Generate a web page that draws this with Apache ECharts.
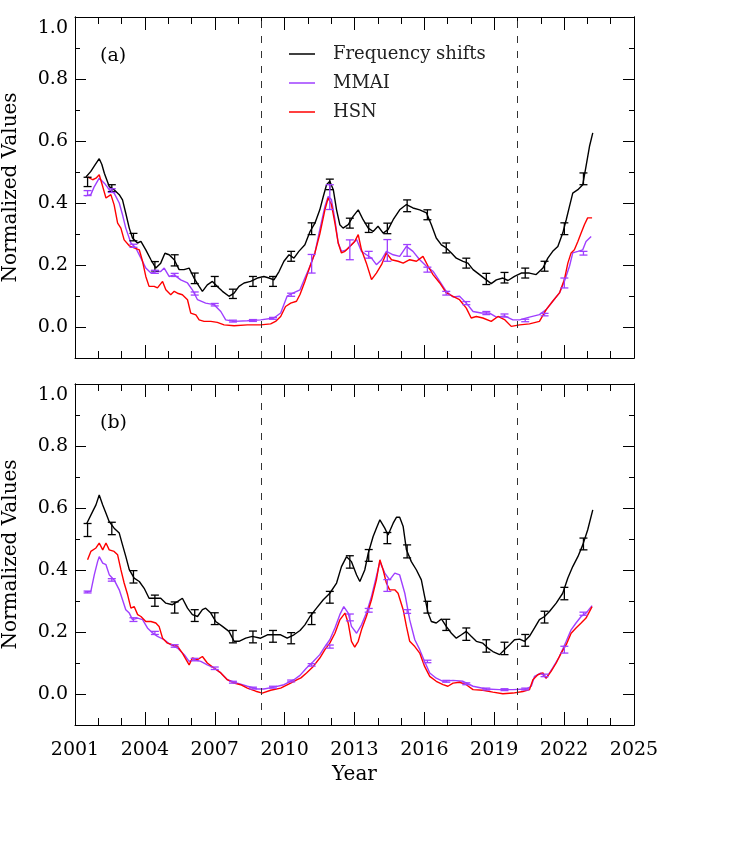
<!DOCTYPE html>
<html>
<head>
<meta charset="utf-8">
<script src="https://cdn.jsdelivr.net/npm/echarts@6/dist/echarts.min.js"></script>
<style>
  html, body { margin: 0; padding: 0; background: #fff; }
  #chart { width: 747px; height: 854px; }
</style>
</head>
<body>
<div id="chart"></div>
<script>
// values: [year, normalized value]
// panel (a)
var fsA = [[2001.47,0.484],[2001.68,0.502],[2001.86,0.523],[2002.04,0.543],[2002.15,0.525],[2002.26,0.496],[2002.47,0.453],[2002.68,0.443],[2002.9,0.427],[2003.04,0.41],[2003.18,0.367],[2003.33,0.319],[2003.47,0.287],[2003.68,0.271],[2003.83,0.276],[2004.04,0.249],[2004.26,0.217],[2004.47,0.19],[2004.68,0.206],[2004.86,0.238],[2005.04,0.233],[2005.26,0.217],[2005.47,0.185],[2005.68,0.185],[2005.9,0.19],[2006.11,0.158],[2006.33,0.131],[2006.47,0.115],[2006.68,0.136],[2006.9,0.147],[2007.11,0.131],[2007.33,0.115],[2007.61,0.099],[2007.83,0.109],[2008.04,0.131],[2008.26,0.142],[2008.54,0.147],[2008.83,0.158],[2009.11,0.163],[2009.33,0.158],[2009.54,0.152],[2009.76,0.179],[2009.97,0.212],[2010.19,0.233],[2010.4,0.222],[2010.61,0.244],[2010.87,0.265],[2011.09,0.308],[2011.3,0.335],[2011.51,0.378],[2011.66,0.421],[2011.8,0.459],[2011.94,0.47],[2012.09,0.443],[2012.23,0.378],[2012.37,0.33],[2012.51,0.319],[2012.73,0.33],[2012.94,0.357],[2013.16,0.378],[2013.37,0.346],[2013.59,0.319],[2013.8,0.308],[2014.01,0.325],[2014.23,0.303],[2014.44,0.314],[2014.66,0.346],[2014.94,0.378],[2015.23,0.395],[2015.51,0.384],[2015.8,0.378],[2016.09,0.368],[2016.3,0.33],[2016.51,0.287],[2016.73,0.265],[2016.94,0.255],[2017.16,0.239],[2017.37,0.222],[2017.66,0.212],[2017.87,0.206],[2018.09,0.185],[2018.37,0.169],[2018.66,0.152],[2018.87,0.14],[2019.09,0.152],[2019.37,0.158],[2019.59,0.15],[2019.87,0.163],[2020.16,0.174],[2020.51,0.174],[2020.8,0.169],[2021.09,0.19],[2021.3,0.222],[2021.51,0.244],[2021.73,0.26],[2021.94,0.303],[2022.09,0.346],[2022.23,0.389],[2022.37,0.432],[2022.59,0.443],[2022.8,0.459],[2022.94,0.518],[2023.09,0.583],[2023.23,0.626]];
var mmaiA = [[2001.44,0.423],[2001.68,0.427],[2001.83,0.453],[2002.04,0.48],[2002.26,0.464],[2002.47,0.443],[2002.68,0.432],[2002.9,0.4],[2003.04,0.362],[2003.18,0.319],[2003.4,0.271],[2003.61,0.255],[2003.83,0.222],[2004.04,0.19],[2004.26,0.174],[2004.47,0.179],[2004.68,0.179],[2004.83,0.19],[2005.04,0.163],[2005.26,0.168],[2005.54,0.152],[2005.83,0.142],[2006.04,0.12],[2006.26,0.088],[2006.61,0.077],[2006.97,0.072],[2007.26,0.05],[2007.47,0.023],[2007.83,0.018],[2008.4,0.02],[2008.97,0.023],[2009.54,0.029],[2009.83,0.045],[2010.11,0.1],[2010.4,0.111],[2010.66,0.12],[2010.87,0.158],[2011.09,0.196],[2011.3,0.239],[2011.51,0.314],[2011.73,0.389],[2011.87,0.421],[2012.01,0.411],[2012.16,0.346],[2012.3,0.271],[2012.44,0.244],[2012.66,0.249],[2012.87,0.265],[2013.09,0.282],[2013.3,0.244],[2013.51,0.233],[2013.73,0.222],[2013.94,0.201],[2014.16,0.217],[2014.37,0.244],[2014.66,0.233],[2014.94,0.228],[2015.23,0.26],[2015.51,0.244],[2015.8,0.217],[2016.09,0.196],[2016.37,0.18],[2016.66,0.147],[2016.94,0.115],[2017.23,0.097],[2017.51,0.099],[2017.8,0.077],[2018.09,0.05],[2018.44,0.045],[2018.8,0.045],[2019.09,0.032],[2019.44,0.036],[2019.8,0.023],[2020.09,0.023],[2020.51,0.032],[2020.94,0.04],[2021.23,0.056],[2021.51,0.083],[2021.8,0.11],[2022.01,0.147],[2022.23,0.196],[2022.37,0.239],[2022.59,0.244],[2022.8,0.249],[2022.94,0.276],[2023.16,0.292]];
var hsnA = [[2001.54,0.484],[2001.76,0.475],[2001.9,0.48],[2002.04,0.491],[2002.19,0.453],[2002.33,0.416],[2002.54,0.427],[2002.68,0.394],[2002.83,0.335],[2002.97,0.319],[2003.11,0.281],[2003.33,0.262],[2003.54,0.255],[2003.76,0.249],[2003.9,0.212],[2004.04,0.163],[2004.18,0.131],[2004.4,0.131],[2004.54,0.126],[2004.76,0.147],[2004.9,0.12],[2005.11,0.104],[2005.26,0.115],[2005.4,0.109],[2005.61,0.104],[2005.83,0.088],[2005.97,0.045],[2006.19,0.039],[2006.33,0.023],[2006.54,0.018],[2006.83,0.018],[2007.11,0.015],[2007.4,0.007],[2007.83,0.004],[2008.4,0.007],[2008.97,0.007],[2009.4,0.01],[2009.61,0.018],[2009.83,0.034],[2010.04,0.066],[2010.26,0.077],[2010.51,0.083],[2010.66,0.105],[2010.87,0.147],[2011.09,0.196],[2011.3,0.239],[2011.51,0.3],[2011.73,0.378],[2011.87,0.416],[2012.01,0.395],[2012.16,0.335],[2012.3,0.271],[2012.44,0.239],[2012.59,0.244],[2012.8,0.26],[2013.01,0.276],[2013.16,0.298],[2013.3,0.249],[2013.51,0.206],[2013.73,0.153],[2013.94,0.174],[2014.16,0.201],[2014.37,0.239],[2014.59,0.217],[2014.87,0.212],[2015.09,0.206],[2015.37,0.217],[2015.66,0.212],[2015.94,0.228],[2016.16,0.196],[2016.37,0.169],[2016.66,0.142],[2016.94,0.11],[2017.23,0.099],[2017.51,0.088],[2017.8,0.061],[2018.01,0.029],[2018.23,0.034],[2018.51,0.029],[2018.87,0.018],[2019.16,0.034],[2019.44,0.024],[2019.73,0.002],[2020.09,0.007],[2020.51,0.01],[2020.94,0.018],[2021.23,0.056],[2021.51,0.083],[2021.8,0.11],[2022.01,0.153],[2022.16,0.206],[2022.3,0.239],[2022.44,0.249],[2022.59,0.276],[2022.73,0.303],[2022.87,0.33],[2023.01,0.352],[2023.2,0.352]];
// panel (b)
var fsB = [[2001.51,0.551],[2001.76,0.589],[2001.9,0.61],[2002.04,0.642],[2002.19,0.61],[2002.33,0.583],[2002.47,0.556],[2002.68,0.535],[2002.9,0.519],[2003.04,0.481],[2003.18,0.444],[2003.33,0.401],[2003.54,0.374],[2003.76,0.363],[2003.97,0.341],[2004.18,0.309],[2004.4,0.309],[2004.68,0.309],[2004.9,0.293],[2005.18,0.288],[2005.4,0.298],[2005.61,0.309],[2005.83,0.277],[2006.04,0.256],[2006.26,0.25],[2006.47,0.272],[2006.61,0.277],[2006.83,0.261],[2007.04,0.234],[2007.33,0.218],[2007.61,0.202],[2007.83,0.17],[2008.04,0.17],[2008.33,0.18],[2008.61,0.186],[2008.97,0.18],[2009.26,0.191],[2009.54,0.191],[2009.83,0.191],[2010.11,0.18],[2010.4,0.191],[2010.66,0.205],[2010.87,0.223],[2011.09,0.25],[2011.37,0.277],[2011.66,0.304],[2011.94,0.325],[2012.23,0.358],[2012.44,0.411],[2012.66,0.443],[2012.87,0.427],[2013.09,0.384],[2013.23,0.363],[2013.44,0.4],[2013.59,0.454],[2013.8,0.508],[2013.94,0.535],[2014.09,0.562],[2014.3,0.535],[2014.44,0.513],[2014.66,0.551],[2014.8,0.57],[2014.94,0.57],[2015.09,0.54],[2015.23,0.465],[2015.44,0.427],[2015.66,0.4],[2015.87,0.368],[2016.01,0.315],[2016.16,0.261],[2016.3,0.234],[2016.51,0.229],[2016.73,0.242],[2016.94,0.218],[2017.16,0.196],[2017.37,0.18],[2017.59,0.191],[2017.8,0.202],[2018.01,0.186],[2018.23,0.17],[2018.51,0.164],[2018.73,0.148],[2018.94,0.137],[2019.23,0.127],[2019.44,0.143],[2019.66,0.159],[2019.87,0.175],[2020.09,0.177],[2020.3,0.17],[2020.51,0.186],[2020.73,0.213],[2020.94,0.24],[2021.16,0.25],[2021.37,0.266],[2021.66,0.293],[2021.94,0.325],[2022.16,0.374],[2022.37,0.411],[2022.59,0.443],[2022.8,0.481],[2023.01,0.529],[2023.23,0.594]];
var mmaiB = [[2001.43,0.329],[2001.68,0.331],[2001.83,0.385],[2001.97,0.427],[2002.04,0.443],[2002.19,0.422],[2002.33,0.417],[2002.47,0.385],[2002.68,0.368],[2002.9,0.336],[2003.04,0.304],[2003.18,0.272],[2003.33,0.261],[2003.47,0.24],[2003.69,0.245],[2003.9,0.24],[2004.11,0.213],[2004.33,0.197],[2004.54,0.186],[2004.83,0.175],[2005.11,0.159],[2005.4,0.148],[2005.69,0.127],[2005.9,0.105],[2006.11,0.111],[2006.4,0.105],[2006.68,0.094],[2006.97,0.084],[2007.26,0.068],[2007.54,0.046],[2007.97,0.035],[2008.4,0.025],[2008.83,0.016],[2009.11,0.016],[2009.54,0.022],[2009.97,0.03],[2010.4,0.046],[2010.66,0.06],[2010.94,0.084],[2011.23,0.105],[2011.51,0.127],[2011.73,0.153],[2011.94,0.175],[2012.16,0.213],[2012.37,0.256],[2012.54,0.282],[2012.73,0.261],[2012.87,0.218],[2013.09,0.196],[2013.3,0.223],[2013.51,0.261],[2013.73,0.315],[2013.94,0.379],[2014.09,0.427],[2014.3,0.39],[2014.51,0.368],[2014.73,0.39],[2014.94,0.384],[2015.16,0.325],[2015.37,0.239],[2015.59,0.175],[2015.8,0.143],[2016.01,0.105],[2016.23,0.068],[2016.51,0.051],[2016.8,0.041],[2017.23,0.044],[2017.66,0.041],[2018.09,0.025],[2018.66,0.016],[2019.23,0.014],[2019.8,0.014],[2020.37,0.016],[2020.59,0.025],[2020.73,0.057],[2021.01,0.068],[2021.23,0.051],[2021.51,0.084],[2021.8,0.121],[2022.09,0.17],[2022.3,0.207],[2022.51,0.229],[2022.73,0.25],[2022.94,0.261],[2023.2,0.285]];
var hsnB = [[2001.54,0.433],[2001.68,0.46],[2001.9,0.471],[2002.04,0.487],[2002.19,0.465],[2002.33,0.487],[2002.47,0.465],[2002.68,0.46],[2002.83,0.449],[2002.97,0.401],[2003.11,0.358],[2003.26,0.32],[2003.4,0.277],[2003.54,0.282],[2003.69,0.256],[2003.83,0.25],[2004.04,0.234],[2004.26,0.234],[2004.47,0.229],[2004.61,0.218],[2004.76,0.18],[2004.97,0.164],[2005.18,0.159],[2005.4,0.154],[2005.61,0.132],[2005.9,0.094],[2006.04,0.116],[2006.26,0.111],[2006.47,0.121],[2006.68,0.1],[2006.97,0.084],[2007.26,0.068],[2007.54,0.046],[2007.83,0.035],[2008.11,0.03],[2008.4,0.019],[2008.76,0.009],[2009.04,0.003],[2009.4,0.012],[2009.83,0.019],[2010.26,0.035],[2010.54,0.046],[2010.7,0.052],[2010.94,0.068],[2011.23,0.089],[2011.51,0.116],[2011.73,0.143],[2011.94,0.164],[2012.16,0.196],[2012.37,0.239],[2012.59,0.261],[2012.73,0.229],[2012.87,0.17],[2013.01,0.151],[2013.16,0.17],[2013.3,0.207],[2013.51,0.25],[2013.73,0.304],[2013.94,0.368],[2014.09,0.433],[2014.23,0.4],[2014.37,0.358],[2014.51,0.336],[2014.73,0.336],[2014.87,0.325],[2015.09,0.272],[2015.23,0.218],[2015.37,0.17],[2015.59,0.153],[2015.8,0.132],[2016.01,0.089],[2016.23,0.057],[2016.51,0.041],[2016.8,0.03],[2017.01,0.025],[2017.23,0.035],[2017.51,0.038],[2017.8,0.03],[2018.09,0.014],[2018.51,0.012],[2018.94,0.006],[2019.37,0.001],[2019.8,0.003],[2020.23,0.008],[2020.51,0.014],[2020.66,0.046],[2020.87,0.062],[2021.09,0.068],[2021.23,0.051],[2021.44,0.073],[2021.66,0.1],[2021.87,0.132],[2022.09,0.159],[2022.3,0.196],[2022.51,0.213],[2022.73,0.229],[2022.94,0.245],[2023.2,0.282]];

// error bars: years, then [centre, half-length] per year
var errYears = [2001.54,2002.58,2003.51,2004.43,2005.28,2006.14,2007.0,2007.78,2008.64,2009.5,2010.28,2011.16,2011.94,2012.8,2013.61,2014.41,2015.26,2016.13,2016.94,2017.8,2018.66,2019.44,2020.33,2021.16,2022.01,2022.83];
var fsErrA = [[0.468,0.015],[0.448,0.011],[0.29,0.012],[0.196,0.015],[0.215,0.018],[0.157,0.017],[0.147,0.016],[0.107,0.015],[0.147,0.016],[0.147,0.016],[0.228,0.016],[0.317,0.019],[0.46,0.017],[0.335,0.016],[0.32,0.015],[0.318,0.017],[0.391,0.019],[0.362,0.016],[0.255,0.016],[0.206,0.016],[0.155,0.018],[0.159,0.017],[0.174,0.016],[0.196,0.016],[0.317,0.019],[0.478,0.019]];
var mmaiErrA = [[0.432,0.008],[0.44,0.006],[0.262,0.005],[0.178,0.005],[0.168,0.005],[0.108,0.005],[0.072,0.004],[0.019,0.003],[0.021,0.003],[0.028,0.003],[0.104,0.005],[0.204,0.03],[0.419,0.04],[0.249,0.032],[0.233,0.011],[0.247,0.035],[0.247,0.019],[0.185,0.008],[0.109,0.006],[0.077,0.005],[0.045,0.005],[0.037,0.005],[0.021,0.004],[0.04,0.004],[0.142,0.016],[0.238,0.006]];
var fsErrB = [[0.529,0.021],[0.534,0.02],[0.378,0.02],[0.301,0.018],[0.279,0.018],[0.253,0.019],[0.243,0.019],[0.185,0.02],[0.184,0.019],[0.186,0.019],[0.18,0.018],[0.243,0.019],[0.312,0.019],[0.426,0.02],[0.447,0.019],[0.503,0.018],[0.46,0.021],[0.28,0.019],[0.223,0.018],[0.193,0.02],[0.155,0.02],[0.147,0.02],[0.173,0.019],[0.248,0.019],[0.324,0.02],[0.484,0.019]];
var mmaiErrB = [[0.329,0.003],[0.368,0.004],[0.24,0.006],[0.197,0.005],[0.155,0.004],[0.111,0.004],[0.083,0.004],[0.038,0.003],[0.019,0.003],[0.022,0.003],[0.042,0.003],[0.094,0.004],[0.153,0.005],[0.247,0.011],[0.27,0.006],[0.35,0.019],[0.266,0.006],[0.105,0.004],[0.041,0.003],[0.033,0.003],[0.016,0.003],[0.014,0.003],[0.016,0.003],[0.06,0.004],[0.143,0.011],[0.259,0.005]];

var majorY = [0, 0.2, 0.4, 0.6, 0.8, 1.0];
var minorY = [0.1, 0.3, 0.5, 0.7, 0.9];
var cycleMinima = [2009, 2020];

var FONT = 'DejaVu Serif';
var BLACK = '#000000', PURPLE = '#9f3fff', RED = '#ff0000';

function bars(vals) {
  return errYears.map(function (y, i) { return [y, vals[i][0], vals[i][1]]; });
}

function xAx(grid, pos, labels) {
  return {
    type: 'value', gridIndex: grid, position: pos,
    min: 2001, max: 2025, interval: 3,
    axisLine: { show: true, onZero: false, lineStyle: { color: '#000', width: 1 } },
    axisTick: { show: true, inside: true, length: 13, lineStyle: { color: '#000' } },
    minorTick: { show: true, splitNumber: 3, length: 7, lineStyle: { color: '#000' } },
    splitLine: { show: false },
    axisLabel: {
      show: labels, color: '#000', fontFamily: FONT, fontSize: 19, margin: 16,
      formatter: function (v) { return String(v); }
    },
    name: labels ? 'Year' : '',
    nameLocation: 'middle', nameGap: 40,
    nameTextStyle: { color: '#000', fontFamily: FONT, fontSize: 20 }
  };
}

function yAx(grid, pos, ticks, len, labels) {
  return {
    type: 'value', gridIndex: grid, position: pos,
    min: -0.1, max: 1.0,
    axisLine: { show: true, onZero: false, lineStyle: { color: '#000', width: 1 } },
    axisTick: { show: true, inside: true, length: len, customValues: ticks, lineStyle: { color: '#000' } },
    splitLine: { show: false },
    axisLabel: labels ? {
      show: true, customValues: majorY, color: '#000', fontFamily: FONT, fontSize: 19, margin: 7,
      formatter: function (v) { return Math.abs(v - 1) < 1e-9 ? '{top|1.0}' : v.toFixed(1); },
      rich: { top: { color: '#000', fontFamily: FONT, fontSize: 19, padding: [22, 0, 0, 0] } }
    } : { show: false },
    name: labels ? 'Normalized Values' : '',
    nameLocation: 'middle', nameGap: 54,
    nameTextStyle: { color: '#000', fontFamily: FONT, fontSize: 20 }
  };
}

function lineSeries(name, data, color, xi, yi, z) {
  return {
    name: name, type: 'line', data: data, xAxisIndex: xi, yAxisIndex: yi,
    symbol: 'none', z: z, animation: false,
    lineStyle: { color: color, width: 1.4 }, itemStyle: { color: color }
  };
}

function errSeries(data, color, xi, yi) {
  return {
    type: 'custom', data: data, xAxisIndex: xi, yAxisIndex: yi, z: 6, silent: true,
    encode: { x: 0, y: 1 },
    renderItem: function (params, api) {
      var x = api.value(0), c = api.value(1), h = api.value(2);
      var p1 = api.coord([x, c + h]), p2 = api.coord([x, c - h]);
      var w = 4, st = { stroke: color, lineWidth: 1.3 };
      return { type: 'group', children: [
        { type: 'line', shape: { x1: p1[0], y1: p1[1], x2: p2[0], y2: p2[1] }, style: st },
        { type: 'line', shape: { x1: p1[0] - w, y1: p1[1], x2: p1[0] + w, y2: p1[1] }, style: st },
        { type: 'line', shape: { x1: p2[0] - w, y1: p2[1], x2: p2[0] + w, y2: p2[1] }, style: st }
      ]};
    }
  };
}

function dashes(xi, yi) {
  return {
    type: 'line', data: [], xAxisIndex: xi, yAxisIndex: yi, silent: true,
    markLine: {
      silent: true, symbol: 'none', label: { show: false }, animation: false,
      lineStyle: { color: '#333', width: 1, type: [7, 8] },
      data: cycleMinima.map(function (y) { return { xAxis: y }; })
    }
  };
}

var chart = echarts.init(document.getElementById('chart'));
chart.setOption({
  animation: false,
  backgroundColor: '#fff',
  grid: [
    { left: 75, top: 17, width: 559, height: 341, outerBoundsMode: 'none' },
    { left: 75, top: 384, width: 559, height: 341, outerBoundsMode: 'none' }
  ],
  xAxis: [xAx(0, 'bottom', false), xAx(0, 'top', false), xAx(1, 'bottom', true), xAx(1, 'top', false)],
  yAxis: [
    yAx(0, 'left', majorY, 11, true), yAx(0, 'left', minorY, 5, false),
    yAx(0, 'right', majorY, 11, false), yAx(0, 'right', minorY, 5, false),
    yAx(1, 'left', majorY, 11, true), yAx(1, 'left', minorY, 5, false),
    yAx(1, 'right', majorY, 11, false), yAx(1, 'right', minorY, 5, false)
  ],
  legend: {
    data: ['Frequency shifts', 'MMAI', 'HSN'],
    orient: 'vertical', left: 284, top: 40,
    icon: 'rect', itemWidth: 26, itemHeight: 1.5, itemGap: 11,
    selectedMode: false,
    textStyle: { color: '#222', fontFamily: FONT, fontSize: 18, lineHeight: 18, padding: [0, 0, 0, 13] }
  },
  graphic: [
    { type: 'text', left: 100, top: 47, style: { text: '(a)', fill: '#000', font: '19px "DejaVu Serif"' } },
    { type: 'text', left: 100, top: 414, style: { text: '(b)', fill: '#000', font: '19px "DejaVu Serif"' } }
  ],
  series: [
    dashes(0, 0), dashes(2, 4),
    lineSeries('Frequency shifts', fsA, BLACK, 0, 0, 3),
    lineSeries('MMAI', mmaiA, PURPLE, 0, 0, 3),
    lineSeries('HSN', hsnA, RED, 0, 0, 4),
    errSeries(bars(fsErrA), BLACK, 0, 0),
    errSeries(bars(mmaiErrA), PURPLE, 0, 0),
    lineSeries('Frequency shifts', fsB, BLACK, 2, 4, 3),
    lineSeries('MMAI', mmaiB, PURPLE, 2, 4, 3),
    lineSeries('HSN', hsnB, RED, 2, 4, 4),
    errSeries(bars(fsErrB), BLACK, 2, 4),
    errSeries(bars(mmaiErrB), PURPLE, 2, 4)
  ]
});
</script>
</body>
</html>
